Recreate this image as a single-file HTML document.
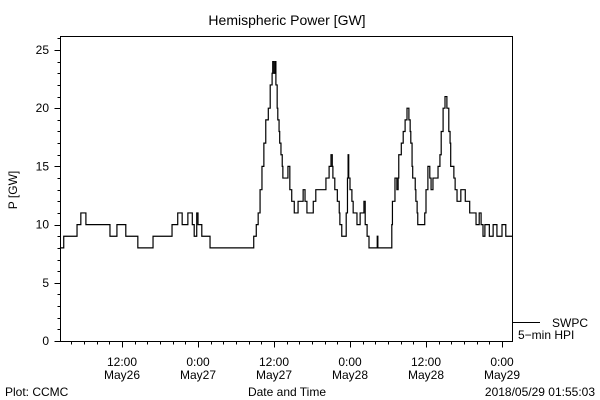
<!DOCTYPE html>
<html><head><meta charset="utf-8"><style>
body{margin:0;background:#fff;}
svg{display:block;font-family:"Liberation Sans",sans-serif;}
text{font-size:12px;fill:#000;}
</style></head><body>
<svg id="chart" width="600" height="400" viewBox="0 0 600 400">
<text x="287" y="25" text-anchor="middle" style="font-size:14px">Hemispheric Power [GW]</text>
<text transform="translate(17,190) rotate(-90)" text-anchor="middle">P [GW]</text>
<rect x="60.5" y="36.5" width="452" height="305" fill="none" stroke="#000"/>
<g id="yaxis"></g>
<g id="xaxis"></g>
<path id="series" fill="none" stroke="#000" stroke-width="1.2"/>
<line x1="513" y1="322.5" x2="540" y2="322.5" stroke="#000"/>
<text x="552" y="327">SWPC</text>
<text x="518" y="339">5−min HPI</text>
<text x="5" y="396">Plot: CCMC</text>
<text x="287" y="396" text-anchor="middle">Date and Time</text>
<text x="595" y="396" text-anchor="end">2018/05/29 01:55:03</text>
</svg>
<script>
// time in hours since 2018-05-26 00:00, value in GW (step series)
const times=[2.2,2.8,4.9,5.5,6.3,10.1,11.2,12.6,14.5,16.9,19.9,20.8,21.5,22.4,23.1,23.4,23.8,24.0,24.6,25.9,32.8,33.2,33.5,33.8,34.1,34.4,34.7,35.1,35.4,35.7,35.8,36.0,36.2,36.3,36.5,36.6,36.8,36.9,37.1,37.3,37.4,38.2,38.5,38.8,39.2,39.8,40.6,40.9,41.2,42.2,42.6,44.2,44.7,45.0,45.2,45.3,45.6,46.0,46.3,46.4,46.7,47.4,47.6,47.7,47.8,48.0,48.3,48.5,49.1,49.6,50.2,50.4,50.7,51.0,52.3,52.4,54.6,54.7,55.1,55.4,55.6,55.7,56.1,56.4,56.7,57.0,57.3,57.5,57.6,57.8,57.9,58.3,58.4,58.6,58.7,59.8,60.0,60.3,60.6,60.8,61.1,61.9,62.2,62.4,62.7,63.0,63.3,63.6,63.8,63.9,64.4,64.6,64.9,65.5,66.2,66.9,67.9,68.4,68.7,69.0,69.3,70.0,70.6,71.2,72.0,72.6];
const values=[8,9,10,11,10,9,10,9,8,9,10,11,10,11,10,9,11,10,9,8,9,10,11,13,15,17,19,20,22,23,24,23,24,22,20,19,18,17,16,15,14,15,13,12,11,12,13,12,11,12,13,14,15,16,15,14,13,12,11,10,9,11,14,16,14,13,12,11,10,11,12,10,9,8,9,8,10,12,14,13,14,16,17,18,19,20,19,18,17,15,14,13,12,11,10,11,13,15,14,13,14,15,16,18,20,21,20,18,17,15,14,13,12,13,12,11,10,11,10,9,10,9,10,9,10,9];
const endTime=73.6;
const yTicks=[0,5,10,15,20,25];
const xTickHours=[12,24,36,48,60,72];
const xTickLabels=[["12:00","May26"],["0:00","May27"],["12:00","May27"],["0:00","May28"],["12:00","May28"],["0:00","May29"]];

const NS="http://www.w3.org/2000/svg";
const xs=h=>122+(h-12)*76/12;
const ys=v=>341-v*11.64;

let d="M"+xs(times[0])+","+ys(values[0]);
for(let i=1;i<times.length;i++){d+=" H"+xs(times[i])+" V"+ys(values[i]);}
d+=" H"+xs(endTime);
document.getElementById('series').setAttribute('d',d);

const ya=document.getElementById('yaxis');
for(let v=0;v<=26;v++){
  const l=document.createElementNS(NS,'line');
  
  
  const len=v%5===0?6:3;
  l.setAttribute('x1',60.5-len);l.setAttribute('x2',60.5);
  l.setAttribute('y1',Math.round(ys(v))+0.5);l.setAttribute('y2',Math.round(ys(v))+0.5);
  l.setAttribute('stroke','#000');ya.appendChild(l);
}
yTicks.forEach(v=>{
  const t=document.createElementNS(NS,'text');
  
  
  t.setAttribute('x',49);t.setAttribute('y',ys(v)+4);t.setAttribute('text-anchor','end');
  t.textContent=v;ya.appendChild(t);
});
const xa=document.getElementById('xaxis');
for(let h=4;h<=72;h+=2){
  const l=document.createElementNS(NS,'line');
  
  
  const len=h%12===0?6:3;
  const x=Math.round(xs(h))+0.5;
  l.setAttribute('x1',x);l.setAttribute('x2',x);
  l.setAttribute('y1',341.5);l.setAttribute('y2',341.5+len);
  l.setAttribute('stroke','#000');xa.appendChild(l);
}
xTickHours.forEach((h,i)=>{
  for(let k=0;k<2;k++){
    const t=document.createElementNS(NS,'text');
    
    
    t.setAttribute('x',xs(h));t.setAttribute('y',366+k*13);t.setAttribute('text-anchor','middle');
    t.textContent=xTickLabels[i][k];xa.appendChild(t);
  }
});
</script>
</body></html>
